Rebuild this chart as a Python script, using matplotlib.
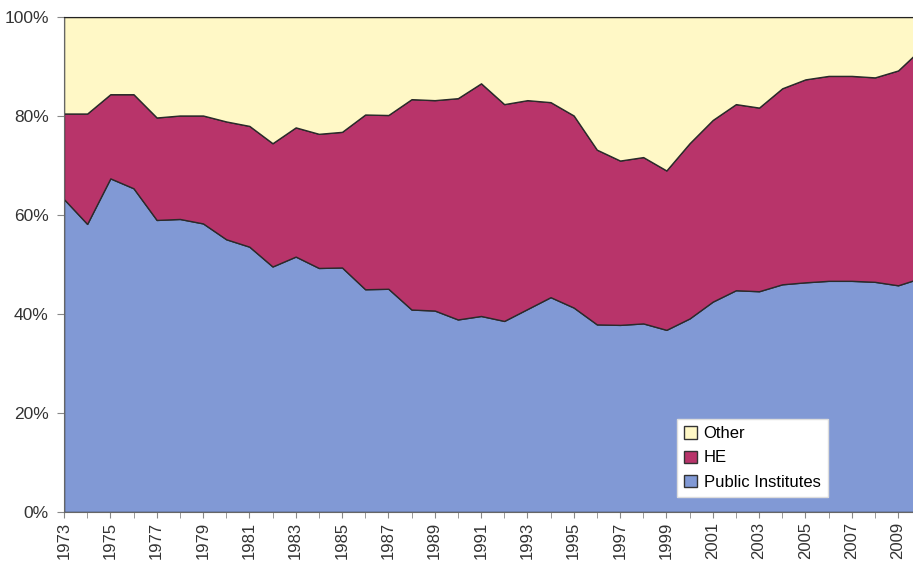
import numpy as np
import matplotlib.pyplot as plt
from matplotlib.patches import Patch

plt.rcParams['font.family'] = ['Liberation Sans', 'DejaVu Sans']

# data (share of total, %)
years = list(range(1973, 2011))
public_institutes = [63.2, 58.2, 67.4, 65.4, 59.0, 59.2, 58.3, 55.1, 53.6, 49.6,
                     51.6, 49.3, 49.4, 45.0, 45.1, 40.9, 40.7, 38.9, 39.6, 38.6,
                     41.0, 43.4, 41.3, 37.9, 37.8, 38.1, 36.8, 39.1, 42.5, 44.8,
                     44.6, 46.0, 46.4, 46.7, 46.7, 46.5, 45.8, 47.3]
# cumulative top of the HE band
he_top = [80.5, 80.5, 84.4, 84.4, 79.7, 80.1, 80.1, 78.9, 78.0, 74.5,
          77.7, 76.4, 76.8, 80.3, 80.2, 83.4, 83.2, 83.6, 86.6, 82.4,
          83.2, 82.8, 80.1, 73.2, 71.0, 71.7, 69.0, 74.5, 79.2, 82.4,
          81.7, 85.6, 87.4, 88.1, 88.1, 87.8, 89.2, 93.6]

pi = np.array(public_institutes)
he = np.array(he_top) - pi
other = 100 - np.array(he_top)

c_pi = "#8199d5"
c_he = "#b8346a"
c_other = "#fff8c6"

fig = plt.figure(figsize=(9.13, 5.63), dpi=100)
ax = fig.add_axes([64 / 913, 1 - 512 / 563, 1 - 64 / 913, 495 / 563])

ax.stackplot(years, pi, he, other, colors=[c_pi, c_he, c_other],
             edgecolor="#2a2a2a", linewidth=1.0)

ax.set_yticks(range(0, 101, 20))
ax.set_yticklabels([f"{v}%" for v in range(0, 101, 20)], fontsize=12.5, color="#333333")
ax.set_xticks(years, minor=True)
ax.set_xticks(range(1973, 2010, 2))
ax.set_xticklabels([str(y) for y in range(1973, 2010, 2)], rotation=90,
                   fontsize=12, color="#333333")
ax.tick_params(axis="x", which="both", length=4, color="#888888", direction="out")
ax.tick_params(axis="y", length=5, color="#888888", pad=6)
ax.tick_params(axis="x", pad=3)

# the original picture is cut off just before 2010
ax.set_xlim(1973, 1973 + (913 - 64.3) / 23.16)
ax.set_ylim(0, 100)

for s in ["left", "bottom"]:
    ax.spines[s].set_color("#666666")
ax.spines["top"].set_color("#222222")
ax.spines["right"].set_visible(False)

handles = [Patch(facecolor=c_other, edgecolor="#333333", label="Other"),
           Patch(facecolor=c_he, edgecolor="#333333", label="HE"),
           Patch(facecolor=c_pi, edgecolor="#333333", label="Public Institutes")]
leg = ax.legend(handles=handles, loc="lower left", bbox_to_anchor=(0.722, 0.03),
                fontsize=12, frameon=True, fancybox=False, handlelength=0.75,
                handleheight=0.75, handletextpad=0.4, labelspacing=0.55,
                borderpad=0.45, borderaxespad=0)
leg.get_frame().set_facecolor("white")
leg.get_frame().set_edgecolor("#dddddd")
leg.get_frame().set_alpha(1)

plt.savefig("out.png", dpi=100)
